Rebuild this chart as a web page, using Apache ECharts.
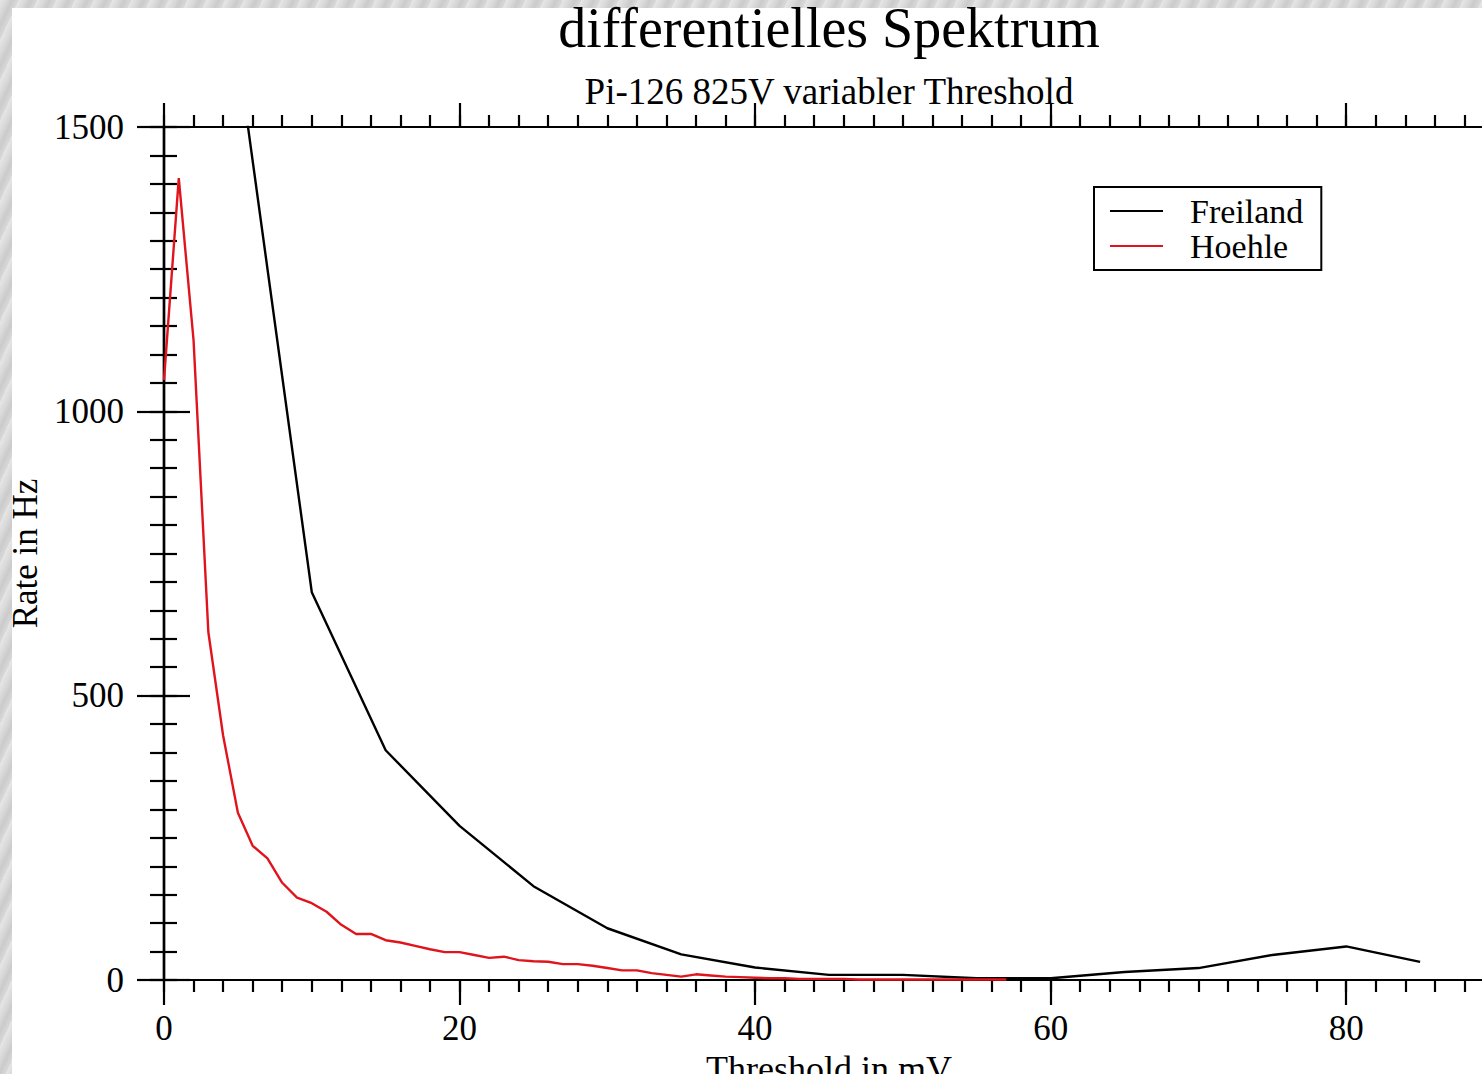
<!DOCTYPE html>
<html>
<head>
<meta charset="utf-8">
<script src="https://cdn.jsdelivr.net/npm/echarts@6/dist/echarts.min.js"></script>
<style>
html,body{margin:0;padding:0;}
body{background:#d9d9d9;
background-image:repeating-linear-gradient(115deg,rgba(255,255,255,0.35) 0px,rgba(255,255,255,0) 6px,rgba(160,160,160,0.25) 11px,rgba(255,255,255,0) 17px);}
#c{width:1482px;height:1074px;}
</style>
</head>
<body>
<div id="c"></div>
<script>
// ---- data ----
const titleText = 'differentielles Spektrum';
const subtitleText = 'Pi-126 825V variabler Threshold';
const xAxisName = 'Threshold in mV';
const yAxisName = 'Rate in Hz';
const seriesNames = ['Freiland', 'Hoehle'];

const freilandThreshold = [5, 10, 15, 20, 25, 30, 35, 40, 45, 50, 55, 60, 65, 70, 75, 80, 85];
const freilandRate      = [1630, 682, 404, 271, 165, 91, 45, 22, 9, 9, 3, 3, 14, 21, 44, 59, 32];

const hoehleThreshold = [0,1,2,3,4,5,6,7,8,9,10,11,12,13,14,15,16,17,18,19,20,21,22,23,24,25,26,27,28,29,30,31,32,33,34,35,36,37,38,39,40,41,42,43,44,45,46,47,48,49,50,51,52,53,54,55,56,57];
const hoehleRate      = [1055,1410,1125,612,430,294,236,214,171,145,135,120,97,81,81,70,66,60,54,49,49,44,39,41,35,33,32,28,28,25,21,17,17,12,9,6,10,8,6,5,4,3,3,2,2,2,2,1,1,1,1,1,1,1,1,1,1,1];

const xMajorTicks = [0, 20, 40, 60, 80];
const yMajorTicks = [0, 500, 1000, 1500];

// ---- chart ----
const FONT = "'Liberation Serif','Times New Roman',serif";
const chart = echarts.init(document.getElementById('c'), null, {renderer: 'svg'});

const xRange = {min: 0, max: 90};
const yRange = {min: 0, max: 1500};
const lineSt = {color: '#000', width: 2.2};

function xAx(pos, interval, len, extra) {
  return Object.assign({
    type: 'value', position: pos, min: xRange.min, max: xRange.max, interval: interval,
    splitLine: {show: false},
    axisLine: {show: true, onZero: false, lineStyle: lineSt},
    axisTick: {show: true, length: len, lineStyle: lineSt},
    axisLabel: {show: false}
  }, extra || {});
}
function yAx(interval, len, inside, extra) {
  return Object.assign({
    type: 'value', position: 'left', min: yRange.min, max: yRange.max, interval: interval,
    splitLine: {show: false},
    axisLine: {show: true, onZero: false, lineStyle: lineSt},
    axisTick: {show: true, inside: inside, length: len, lineStyle: lineSt},
    axisLabel: {show: false}
  }, extra || {});
}

const option = {
  animation: false,
  backgroundColor: 'transparent',
  graphic: [
    {type: 'rect', z: -100, shape: {x: 12, y: 8, width: 1482, height: 1080}, style: {fill: '#ffffff'}},
    {type: 'text', x: 829, y: 28, style: {text: titleText, font: "56px " + FONT, fill: '#000', align: 'center', verticalAlign: 'middle'}},
    {type: 'text', x: 829, y: 91, style: {text: subtitleText, font: "37px " + FONT, fill: '#000', align: 'center', verticalAlign: 'middle'}}
  ],
  grid: {left: 164, top: 127, right: -12, bottom: 94, containLabel: false, outerBoundsMode: 'none'},
  legend: {
    orient: 'vertical', left: 1094, top: 187,
    data: seriesNames,
    icon: 'rect', itemWidth: 53, itemHeight: 2, itemGap: 1,
    borderColor: '#000', borderWidth: 2, borderRadius: 0,
    padding: [7, 18, 7, 16],
    backgroundColor: '#fff',
    textStyle: {fontFamily: FONT, fontSize: 34, lineHeight: 34, color: '#000', padding: [0, 0, 0, 22]}
  },
  xAxis: [
    xAx('bottom', 20, 25, {
      axisLabel: {show: true, margin: 31, fontFamily: FONT, fontSize: 35, color: '#000', showMaxLabel: false,
        formatter: v => xMajorTicks.indexOf(v) >= 0 ? String(v) : ''},
      name: xAxisName, nameLocation: 'middle', nameGap: 65,
      nameTextStyle: {fontFamily: FONT, fontSize: 36, color: '#000'}
    }),
    xAx('bottom', 2, 12),
    xAx('top', 20, 24),
    xAx('top', 2, 12)
  ],
  yAxis: [
    yAx(500, 27, false, {
      axisLabel: {show: true, margin: 40, fontFamily: FONT, fontSize: 35, color: '#000',
        formatter: v => yMajorTicks.indexOf(v) >= 0 ? String(v) : ''},
      name: yAxisName, nameLocation: 'middle', nameGap: 121,
      nameTextStyle: {fontFamily: FONT, fontSize: 35, color: '#000'}
    }),
    yAx(500, 26, true),
    yAx(50, 14, false),
    yAx(50, 13, true)
  ],
  series: [
    {
      name: seriesNames[0], type: 'line', xAxisIndex: 0, yAxisIndex: 0,
      data: freilandThreshold.map((x, i) => [x, freilandRate[i]]),
      showSymbol: false, symbol: 'none', clip: true,
      lineStyle: {color: '#000', width: 2.4}, itemStyle: {color: '#000'}
    },
    {
      name: seriesNames[1], type: 'line', xAxisIndex: 0, yAxisIndex: 0,
      data: hoehleThreshold.map((x, i) => [x, hoehleRate[i]]),
      showSymbol: false, symbol: 'none', clip: true,
      lineStyle: {color: '#e0141c', width: 2.4}, itemStyle: {color: '#e0141c'}
    }
  ]
};
chart.setOption(option);
</script>
</body>
</html>
